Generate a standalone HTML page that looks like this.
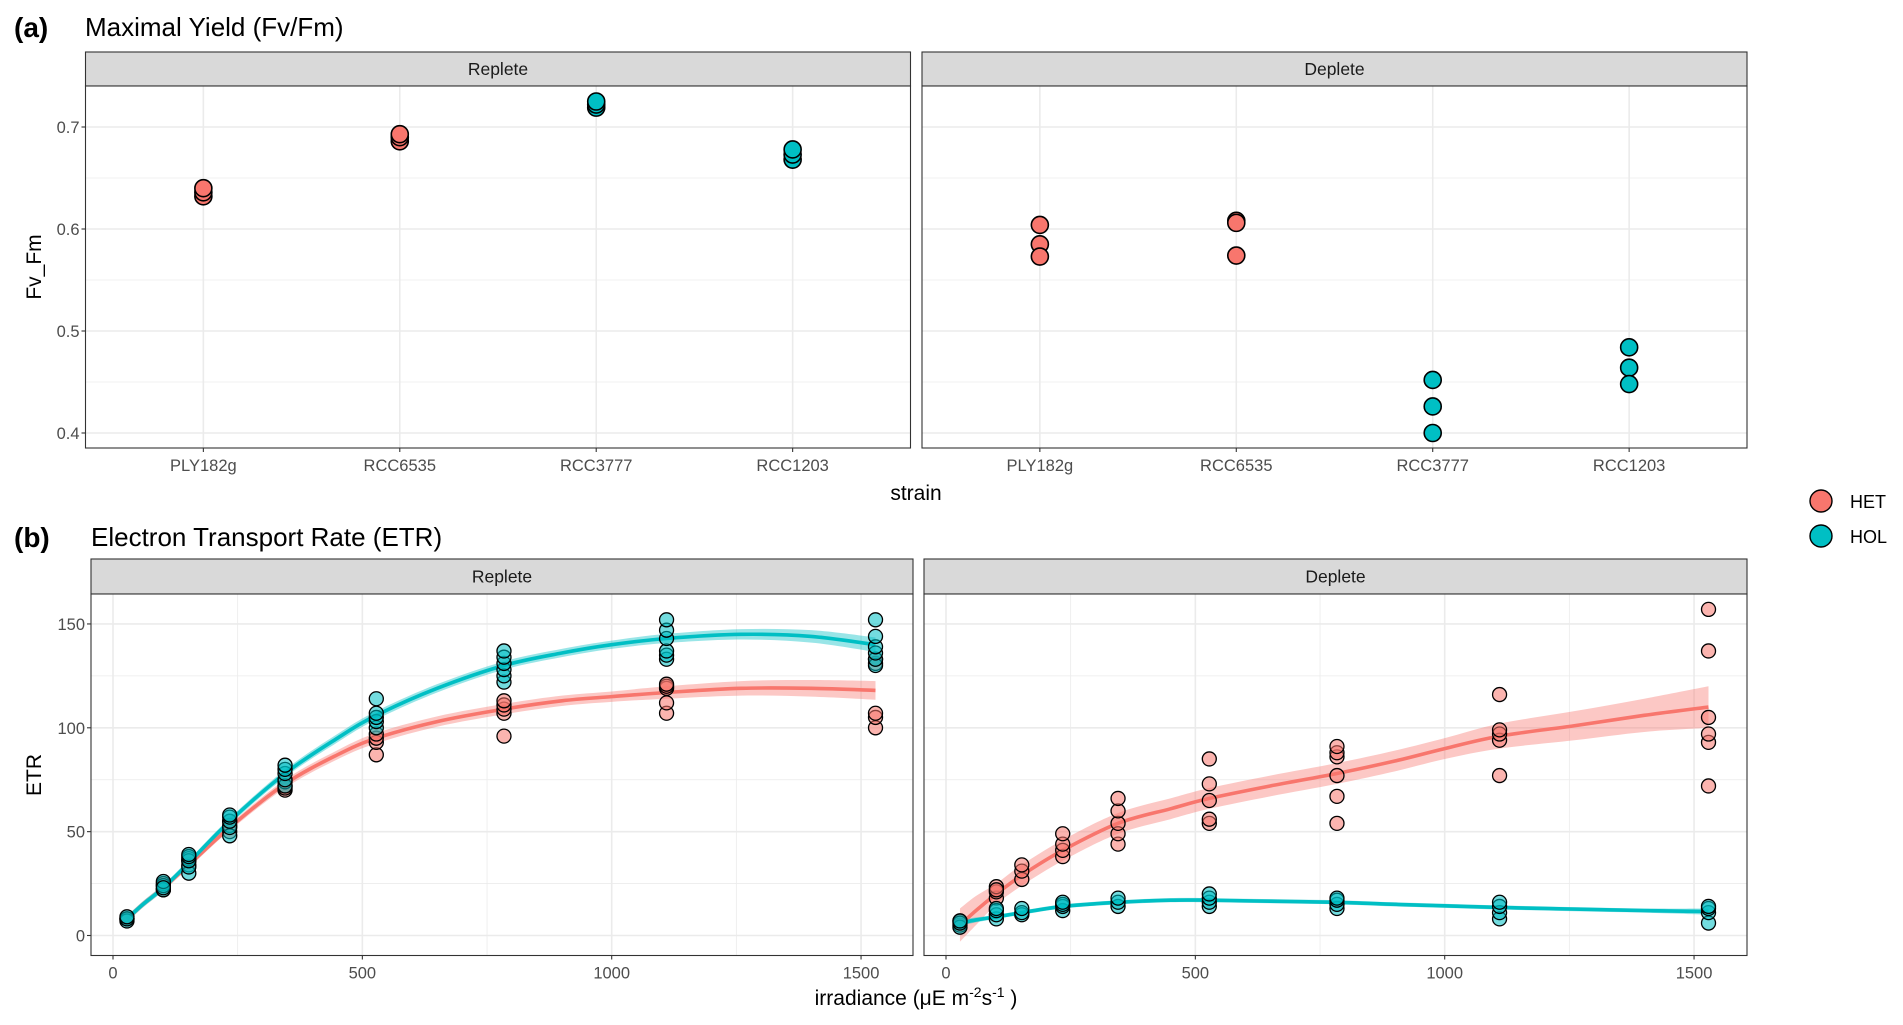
<!DOCTYPE html>
<html><head><meta charset="utf-8">
<style>
html,body{margin:0;padding:0;background:#fff;}
svg{display:block;font-family:"Liberation Sans",sans-serif;}
</style></head>
<body>
<svg id="chart" width="1903" height="1025" viewBox="0 0 1903 1025" xmlns="http://www.w3.org/2000/svg"></svg>
<script>
// ---------- data ----------
const strains = ["PLY182g","RCC6535","RCC3777","RCC1203"];
const strainType = ["HET","HET","HOL","HOL"];
const fvRepleteVals = [[0.632,0.636,0.640],[0.686,0.690,0.693],[0.719,0.722,0.725],[0.668,0.673,0.678]];
const fvDepleteVals = [[0.604,0.585,0.573],[0.608,0.606,0.574],[0.452,0.426,0.400],[0.484,0.464,0.448]];
const fvTicks = [0.4,0.5,0.6,0.7];
const fvMinor = [0.45,0.55,0.65];

const irrLevels = [28,101,152,234,345,528,784,1110,1529];
const repHOL = [[7,8,9],[22,24,26,23],[30,33,36,38,39],[48,52,55,57,58],[72,75,78,80,82],[100,103,105,107,114],[122,125,128,131,134,137],[133,135,137,143,147,152],[130,133,136,139,144,152]];
const repHET = [[8,8],[22,24,25],[34,36,37],[50,53,55],[70,71,72,74],[87,93,95,97],[96,107,109,111,113],[107,112,119,120,121],[100,105,107,131,133]];
const depHET = [[5,7],[18,21,23.5,22],[27,31,34],[38,41,44,49],[44,49,54,60,66],[54,56,65,73,85],[54,67,77,86,88,91],[77,94,97,99,116],[72,93,97,105,137,157]];
const depHOL = [[4,6,7],[8,10,12,13],[10,11,13],[12,14,15,16],[14,16,18],[14,16,18,20],[13,15,17,18],[8,11,14,16],[6,11,13,14]];

const fitX = [28,60,101,152,234,345,450,528,650,784,900,1000,1110,1260,1400,1529];
const fitRepHOL = [8,15,23,35,55,78,95,106,119,130,136,140,143,145,144,140];
const fitRepHET = [8,15,23,34,52,73,87,95,103,109,113,115,117,119,119,118];
const seRepHOL = [1.5,1.5,1.5,1.5,1.5,1.8,2,2,2,2,2,2,2.2,2.5,3,3.5];
const seRepHET = [1.5,1.5,1.5,1.5,1.5,2,2.2,2.5,2.5,2.5,2.5,2.5,3,3.5,4,4.5];
const fitDepHET = [5,12,20,29,41,54,61,66,72,78,84,90,96,101,106,110];
const seDepHET = [8,7,5,5,5,5,5,5,5,5,5,5,6,7,8,10];
const fitDepHOL = [6,7.5,9,11,14,16,17,17,16.5,16,15,14.3,13.5,12.7,12,11.5];
const seDepHOL = [1.5,1.2,1,1,1,1,1,1,1,1,1,1,1,1,1,1.5];

const etrTicks = [0,50,100,150];
const etrMinor = [25,75,125];
const irrTicks = [0,500,1000,1500];
const irrMinor = [250,750,1250];

const COL = {HET:"#F8766D", HOL:"#00BFC4"};
const TICKFS = "16.5";
const STRIPFS = "17.5";

// ---------- helpers ----------
const svg = document.getElementById("chart");
const NS = "http://www.w3.org/2000/svg";
function mk(tag, attrs, parent){
  const e = document.createElementNS(NS, tag);
  for (const k in attrs) e.setAttribute(k, attrs[k]);
  (parent||svg).appendChild(e);
  return e;
}
function txt(s, attrs, parent){ const t = mk("text", attrs, parent); t.textContent = s; return t; }
function smoothPath(pts){
  let d = "M"+pts[0][0].toFixed(2)+","+pts[0][1].toFixed(2);
  for (let i=0;i<pts.length-1;i++){
    const p0 = pts[Math.max(i-1,0)], p1 = pts[i], p2 = pts[i+1], p3 = pts[Math.min(i+2,pts.length-1)];
    const c1x = p1[0]+(p2[0]-p0[0])/6, c1y = p1[1]+(p2[1]-p0[1])/6;
    const c2x = p2[0]-(p3[0]-p1[0])/6, c2y = p2[1]-(p3[1]-p1[1])/6;
    d += " C"+c1x.toFixed(2)+","+c1y.toFixed(2)+" "+c2x.toFixed(2)+","+c2y.toFixed(2)+" "+p2[0].toFixed(2)+","+p2[1].toFixed(2);
  }
  return d;
}
function smoothPathNoM(pts){ return smoothPath(pts).replace(/^M/,"L"); }

// ---------- panel frame ----------
function panel(name, x0, x1, stripTop, plotTop, plotBot, label){
  const g = mk("g", {});
  
  
  const strip = mk("rect", {x:x0, y:stripTop, width:x1-x0, height:plotTop-stripTop, fill:"#d9d9d9", stroke:"#333", "stroke-width":1.1}, g);
  
  
  const st = txt(label, {x:(x0+x1)/2, y:(stripTop+plotTop)/2+6, "text-anchor":"middle", "font-size":STRIPFS, fill:"#1a1a1a"}, g);
  
  
  mk("rect", {x:x0, y:plotTop, width:x1-x0, height:plotBot-plotTop, fill:"#fff"}, g);
  return g;
}
function border(g, x0, x1, plotTop, plotBot){
  mk("rect", {x:x0, y:plotTop, width:x1-x0, height:plotBot-plotTop, fill:"none", stroke:"#333", "stroke-width":1.1}, g);
}

// ---------- top plots ----------
const TOP = {stripTop:52, plotTop:86, plotBot:448};
const fy = v => 127 + (0.7 - v)*1020;
function fvPanel(name, x0, x1, label, vals, showY){
  const g = panel(name, x0, x1, TOP.stripTop, TOP.plotTop, TOP.plotBot, label);
  const fx = i => x0 + (i+0.6)*(x1-x0)/4.2;
  fvMinor.forEach(v => mk("line",{x1:x0,x2:x1,y1:fy(v),y2:fy(v),stroke:"#ebebeb","stroke-width":0.8},g));
  fvTicks.forEach(v => mk("line",{x1:x0,x2:x1,y1:fy(v),y2:fy(v),stroke:"#ebebeb","stroke-width":1.6},g));
  strains.forEach((s,i) => mk("line",{x1:fx(i),x2:fx(i),y1:TOP.plotTop,y2:TOP.plotBot,stroke:"#ebebeb","stroke-width":1.6},g));
  vals.forEach((arr,i) => arr.forEach(v => {
    const c = mk("circle",{cx:fx(i),cy:fy(v),r:8.5,fill:COL[strainType[i]],stroke:"#000","stroke-width":1.6},g);
    
    
  }));
  border(g, x0, x1, TOP.plotTop, TOP.plotBot);
  strains.forEach((s,i) => {
    mk("line",{x1:fx(i),x2:fx(i),y1:TOP.plotBot,y2:TOP.plotBot+4,stroke:"#333","stroke-width":1.1},g);
    const t = txt(s,{x:fx(i),y:TOP.plotBot+23,"text-anchor":"middle","font-size":TICKFS,fill:"#4d4d4d"},g);
    
    
  });
  if (showY) fvTicks.forEach(v => {
    mk("line",{x1:x0-4,x2:x0,y1:fy(v),y2:fy(v),stroke:"#333","stroke-width":1.1},g);
    const t = txt(v.toFixed(1),{x:x0-6,y:fy(v)+6,"text-anchor":"end","font-size":TICKFS,fill:"#4d4d4d"},g);
    
    
  });
}
fvPanel("fvfm-replete-panel", 85.5, 910.5, "Replete", fvRepleteVals, true);
fvPanel("fvfm-deplete-panel", 922, 1747, "Deplete", fvDepleteVals, false);

// ---------- bottom plots ----------
const BOT = {stripTop:559, plotTop:594, plotBot:955.5};
const ey = v => 935.5 - v*2.077;
function etrPanel(name, x0, x1, label, series, showY){
  const g = panel(name, x0, x1, BOT.stripTop, BOT.plotTop, BOT.plotBot, label);
  const ex = v => x0 + 22 + v*0.4987;
  etrMinor.forEach(v => mk("line",{x1:x0,x2:x1,y1:ey(v),y2:ey(v),stroke:"#ebebeb","stroke-width":0.8},g));
  etrTicks.forEach(v => mk("line",{x1:x0,x2:x1,y1:ey(v),y2:ey(v),stroke:"#ebebeb","stroke-width":1.6},g));
  irrMinor.forEach(v => mk("line",{x1:ex(v),x2:ex(v),y1:BOT.plotTop,y2:BOT.plotBot,stroke:"#ebebeb","stroke-width":0.8},g));
  irrTicks.forEach(v => mk("line",{x1:ex(v),x2:ex(v),y1:BOT.plotTop,y2:BOT.plotBot,stroke:"#ebebeb","stroke-width":1.6},g));
  series.forEach(s => {
    const up = fitX.map((x,i)=>[ex(x), ey(s.fit[i]+s.se[i])]);
    const lo = fitX.map((x,i)=>[ex(x), ey(s.fit[i]-s.se[i])]).reverse();
    const rb = mk("path",{d:smoothPath(up)+" "+smoothPathNoM(lo)+" Z",fill:COL[s.type],"fill-opacity":0.4,stroke:"none"},g);
    
    
  });
  series.forEach(s => {
    const ln = mk("path",{d:smoothPath(fitX.map((x,i)=>[ex(x), ey(s.fit[i])])),fill:"none",stroke:COL[s.type],"stroke-width":3.6},g);
    
    
  });
  series.forEach(s => s.pts.forEach((arr,i) => arr.forEach(v => {
    const c = mk("circle",{cx:ex(irrLevels[i]),cy:ey(v),r:7,fill:COL[s.type],"fill-opacity":0.55,stroke:"#000","stroke-width":1.3},g);
    
    
  })));
  border(g, x0, x1, BOT.plotTop, BOT.plotBot);
  irrTicks.forEach(v => {
    mk("line",{x1:ex(v),x2:ex(v),y1:BOT.plotBot,y2:BOT.plotBot+4,stroke:"#333","stroke-width":1.1},g);
    const t = txt(String(v),{x:ex(v),y:BOT.plotBot+23,"text-anchor":"middle","font-size":TICKFS,fill:"#4d4d4d"},g);
    
    
  });
  if (showY) etrTicks.forEach(v => {
    mk("line",{x1:x0-4,x2:x0,y1:ey(v),y2:ey(v),stroke:"#333","stroke-width":1.1},g);
    const t = txt(String(v),{x:x0-6,y:ey(v)+6,"text-anchor":"end","font-size":TICKFS,fill:"#4d4d4d"},g);
    
    
  });
}
etrPanel("etr-replete-panel", 91, 913, "Replete", [
  {type:"HET", pts:repHET, fit:fitRepHET, se:seRepHET},
  {type:"HOL", pts:repHOL, fit:fitRepHOL, se:seRepHOL}], true);
etrPanel("etr-deplete-panel", 924, 1747, "Deplete", [
  {type:"HET", pts:depHET, fit:fitDepHET, se:seDepHET},
  {type:"HOL", pts:depHOL, fit:fitDepHOL, se:seDepHOL}], false);
</script>

<svg style="position:absolute;left:0;top:0" width="1903" height="1025" xmlns="http://www.w3.org/2000/svg" font-family="Liberation Sans, sans-serif">
  <text x="14" y="37" font-size="28" font-weight="bold" fill="#000">(a)</text>
  <text x="85" y="36" font-size="26" fill="#000">Maximal Yield (Fv/Fm)</text>
  <text x="14" y="547" font-size="28" font-weight="bold" fill="#000">(b)</text>
  <text x="91" y="546" font-size="26" fill="#000">Electron Transport Rate (ETR)</text>
  <text transform="translate(41,267) rotate(-90)" text-anchor="middle" font-size="21" fill="#000">Fv_Fm</text>
  <text x="916" y="500" text-anchor="middle" font-size="21" fill="#000">strain</text>
  <text transform="translate(41,775) rotate(-90)" text-anchor="middle" font-size="21" fill="#000">ETR</text>
  <text x="916" y="1005" text-anchor="middle" font-size="21" fill="#000">irradiance (μE m<tspan dy="-8" font-size="14">-2</tspan><tspan dy="8">s</tspan><tspan dy="-8" font-size="14">-1</tspan><tspan dy="8"> )</tspan></text>
  <g>
    <circle cx="1821" cy="501" r="11" fill="#F8766D" stroke="#000" stroke-width="1.4"/>
    <text x="1850" y="508" font-size="18" fill="#000">HET</text>
    <circle cx="1821" cy="536" r="11" fill="#00BFC4" stroke="#000" stroke-width="1.4"/>
    <text x="1850" y="543" font-size="18" fill="#000">HOL</text>
  </g>
</svg>
</body></html>
